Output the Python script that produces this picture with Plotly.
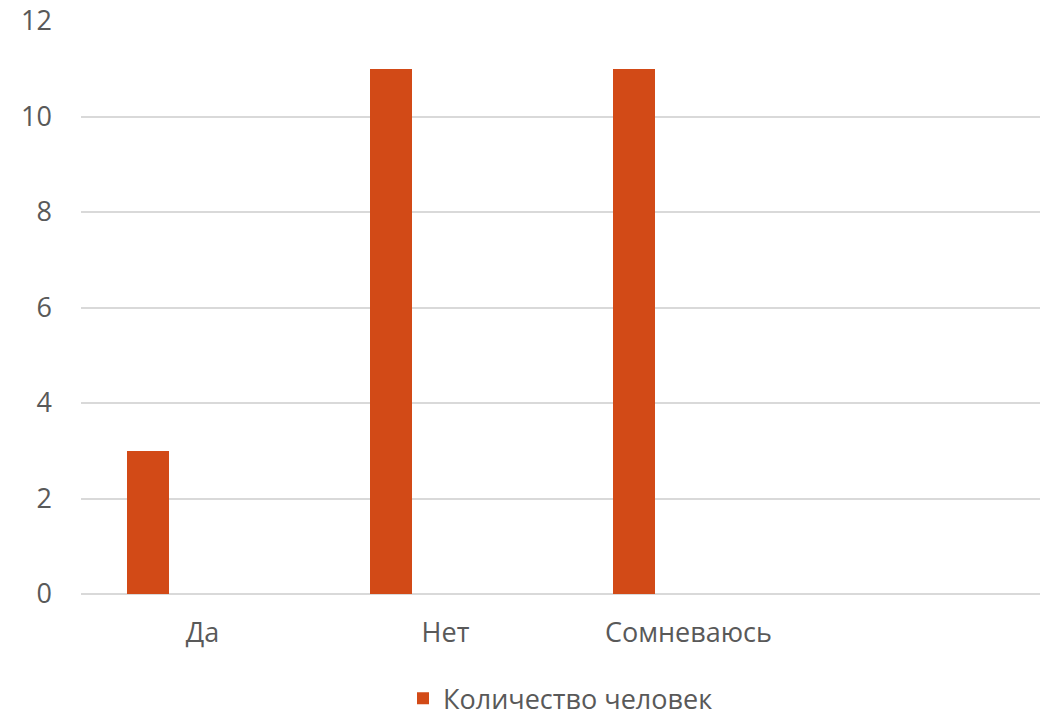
import plotly.graph_objects as go

categories = ["Да", "Нет", "Сомневаюсь"]
values = [3, 11, 11]
series_name = "Количество человек"
y_ticks = [0, 2, 4, 6, 8, 10, 12]

BAR_COLOR = "#D24A17"
TEXT_COLOR = "#595959"
GRID_COLOR = "#D9D9D9"
FONT = "Open Sans, Noto Sans, sans-serif"
FS = 27

fig = go.Figure()
fig.add_trace(go.Bar(
    x=categories, y=values, name=series_name,
    marker=dict(color=BAR_COLOR, line=dict(width=0)),
    offset=-0.309, width=0.173,
    showlegend=True,
))

fig.update_layout(
    width=1040, height=718,
    margin=dict(l=81, r=0, t=21, b=124, autoexpand=False),
    paper_bgcolor="white", plot_bgcolor="white",
    font=dict(family=FONT, size=FS, color=TEXT_COLOR),
    showlegend=True,
    legend=dict(orientation="h", x=0.5, xanchor="center", y=-0.14, yanchor="top",
                font=dict(size=FS, color=TEXT_COLOR), borderwidth=0,
                bgcolor="rgba(0,0,0,0)"),
    xaxis=dict(type="category", range=[-0.5, 3.447], showgrid=False, zeroline=False,
               showline=False, ticks="", ticklabelstandoff=20, automargin=False,
               tickfont=dict(size=FS, color=TEXT_COLOR)),
    yaxis=dict(range=[0, 12], tickvals=y_ticks, showgrid=True, gridcolor=GRID_COLOR,
               gridwidth=1.5, zeroline=True, zerolinecolor=GRID_COLOR, zerolinewidth=1.5,
               showline=False, ticks="", ticklabelstandoff=28, automargin=False,
               tickfont=dict(size=FS, color=TEXT_COLOR)),
    bargap=0,
)

fig.write_html("out.html")
